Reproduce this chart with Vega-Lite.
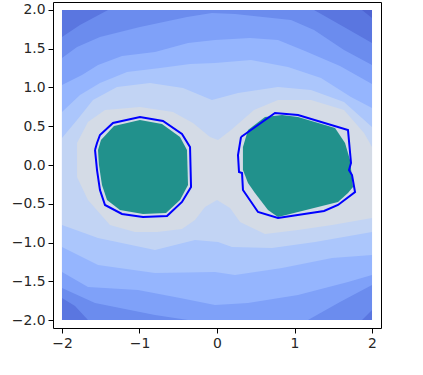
{
"$schema": "https://vega.github.io/schema/vega-lite/v6.json",
"width": 328, "height": 326, "autosize": "none",
"padding": {"left": 53, "top": 2, "right": 42, "bottom": 47},
"config": {"view": {"stroke": "#000", "strokeWidth": 1},
 "axis": {"grid": false, "domain": false, "tickColor": "#000", "tickSize": 5, "tickWidth": 1, "labelFont": "DejaVu Sans", "labelFontSize": 13.9, "labelColor": "#262626", "labelPadding": 3, "title": null, "labelExpr": "replace(datum.label, '-', '\u2212')"}},
"datasets": {"poly": [
{"p":"R0","i":0,"x":-2,"y":2},{"p":"R0","i":1,"x":2,"y":2},{"p":"R0","i":2,"x":2,"y":-2},{"p":"R0","i":3,"x":-2,"y":-2},
{"p":"R1","i":0,"x":-2,"y":2},{"p":"R1","i":1,"x":1.871,"y":2},{"p":"R1","i":2,"x":2,"y":1.897},{"p":"R1","i":3,"x":2,"y":-2},{"p":"R1","i":4,"x":-2,"y":-2},
{"p":"R2","i":0,"x":-1.406,"y":2},{"p":"R2","i":1,"x":1.252,"y":2},{"p":"R2","i":2,"x":1.639,"y":1.781},{"p":"R2","i":3,"x":2,"y":1.574},{"p":"R2","i":4,"x":2,"y":-1.871},{"p":"R2","i":5,"x":1.871,"y":-2},{"p":"R2","i":6,"x":-1.665,"y":-2},{"p":"R2","i":7,"x":-1.832,"y":-1.819},{"p":"R2","i":8,"x":-2,"y":-1.716},{"p":"R2","i":9,"x":-2,"y":1.652},{"p":"R2","i":10,"x":-1.768,"y":1.806},
{"p":"R3","i":0,"x":-2,"y":1.381},{"p":"R3","i":1,"x":-1.806,"y":1.523},{"p":"R3","i":2,"x":-1.51,"y":1.652},{"p":"R3","i":3,"x":-0.994,"y":1.781},{"p":"R3","i":4,"x":-0.387,"y":1.91},{"p":"R3","i":5,"x":-0.065,"y":1.961},{"p":"R3","i":6,"x":0.232,"y":1.948},{"p":"R3","i":7,"x":0.955,"y":1.871},{"p":"R3","i":8,"x":1.252,"y":1.742},{"p":"R3","i":9,"x":1.639,"y":1.484},{"p":"R3","i":10,"x":2,"y":1.29},{"p":"R3","i":11,"x":2,"y":-1.548},{"p":"R3","i":12,"x":1.587,"y":-1.768},{"p":"R3","i":13,"x":1.174,"y":-2},{"p":"R3","i":14,"x":-0.374,"y":-2},{"p":"R3","i":15,"x":-0.8,"y":-1.935},{"p":"R3","i":16,"x":-1.574,"y":-1.781},{"p":"R3","i":17,"x":-2,"y":-1.587},
{"p":"R4","i":0,"x":-2,"y":1.032},{"p":"R4","i":1,"x":-1.742,"y":1.161},{"p":"R4","i":2,"x":-1.535,"y":1.29},{"p":"R4","i":3,"x":-1.226,"y":1.406},{"p":"R4","i":4,"x":-0.8,"y":1.458},{"p":"R4","i":5,"x":-0.374,"y":1.574},{"p":"R4","i":6,"x":-0.026,"y":1.613},{"p":"R4","i":7,"x":0.426,"y":1.639},{"p":"R4","i":8,"x":0.787,"y":1.613},{"p":"R4","i":9,"x":1.135,"y":1.471},{"p":"R4","i":10,"x":1.587,"y":1.277},{"p":"R4","i":11,"x":2,"y":1.045},{"p":"R4","i":12,"x":2,"y":-1.419},{"p":"R4","i":13,"x":1.69,"y":-1.51},{"p":"R4","i":14,"x":1.045,"y":-1.677},{"p":"R4","i":15,"x":0.4,"y":-1.781},{"p":"R4","i":16,"x":-0.026,"y":-1.806},{"p":"R4","i":17,"x":-0.477,"y":-1.716},{"p":"R4","i":18,"x":-1.019,"y":-1.613},{"p":"R4","i":19,"x":-1.665,"y":-1.574},{"p":"R4","i":20,"x":-2,"y":-1.381},
{"p":"R5","i":0,"x":-2,"y":0.684},{"p":"R5","i":1,"x":-1.768,"y":0.903},{"p":"R5","i":2,"x":-1.51,"y":1.058},{"p":"R5","i":3,"x":-1.161,"y":1.2},{"p":"R5","i":4,"x":-0.735,"y":1.252},{"p":"R5","i":5,"x":-0.348,"y":1.303},{"p":"R5","i":6,"x":-0.026,"y":1.316},{"p":"R5","i":7,"x":0.439,"y":1.355},{"p":"R5","i":8,"x":0.916,"y":1.265},{"p":"R5","i":9,"x":1.342,"y":1.123},{"p":"R5","i":10,"x":1.729,"y":0.877},{"p":"R5","i":11,"x":2,"y":0.735},{"p":"R5","i":12,"x":2,"y":-1.161},{"p":"R5","i":13,"x":1.484,"y":-1.2},{"p":"R5","i":14,"x":0.839,"y":-1.329},{"p":"R5","i":15,"x":0.232,"y":-1.419},{"p":"R5","i":16,"x":-0.026,"y":-1.381},{"p":"R5","i":17,"x":-0.8,"y":-1.394},{"p":"R5","i":18,"x":-1.535,"y":-1.29},{"p":"R5","i":19,"x":-2,"y":-1.058},
{"p":"R6","i":0,"x":-2,"y":0.348},{"p":"R6","i":1,"x":-1.806,"y":0.581},{"p":"R6","i":2,"x":-1.6,"y":0.839},{"p":"R6","i":3,"x":-1.29,"y":1.006},{"p":"R6","i":4,"x":-0.865,"y":1.058},{"p":"R6","i":5,"x":-0.439,"y":0.994},{"p":"R6","i":6,"x":-0.065,"y":0.839},{"p":"R6","i":7,"x":0.271,"y":0.929},{"p":"R6","i":8,"x":0.787,"y":1.006},{"p":"R6","i":9,"x":1.213,"y":0.968},{"p":"R6","i":10,"x":1.639,"y":0.813},{"p":"R6","i":11,"x":2,"y":0.49},{"p":"R6","i":12,"x":2,"y":-0.865},{"p":"R6","i":13,"x":1.265,"y":-0.994},{"p":"R6","i":14,"x":0.71,"y":-1.071},{"p":"R6","i":15,"x":0.194,"y":-1.058},{"p":"R6","i":16,"x":0.013,"y":-0.994},{"p":"R6","i":17,"x":-0.284,"y":-0.968},{"p":"R6","i":18,"x":-0.8,"y":-1.097},{"p":"R6","i":19,"x":-1.535,"y":-0.942},{"p":"R6","i":20,"x":-2,"y":-0.774},
{"p":"R7","i":0,"x":-1.806,"y":0.284},{"p":"R7","i":1,"x":-1.806,"y":-0.155},{"p":"R7","i":2,"x":-1.665,"y":-0.452},{"p":"R7","i":3,"x":-1.381,"y":-0.774},{"p":"R7","i":4,"x":-1.058,"y":-0.865},{"p":"R7","i":5,"x":-0.774,"y":-0.865},{"p":"R7","i":6,"x":-0.452,"y":-0.826},{"p":"R7","i":7,"x":-0.284,"y":-0.71},{"p":"R7","i":8,"x":-0.155,"y":-0.542},{"p":"R7","i":9,"x":0,"y":-0.452},{"p":"R7","i":10,"x":0.168,"y":-0.555},{"p":"R7","i":11,"x":0.297,"y":-0.735},{"p":"R7","i":12,"x":0.619,"y":-0.89},{"p":"R7","i":13,"x":1.045,"y":-0.839},{"p":"R7","i":14,"x":1.484,"y":-0.774},{"p":"R7","i":15,"x":2,"y":-0.684},{"p":"R7","i":16,"x":2,"y":0.232},{"p":"R7","i":17,"x":1.897,"y":0.413},{"p":"R7","i":18,"x":1.639,"y":0.71},{"p":"R7","i":19,"x":1.213,"y":0.839},{"p":"R7","i":20,"x":0.787,"y":0.839},{"p":"R7","i":21,"x":0.477,"y":0.71},{"p":"R7","i":22,"x":0.181,"y":0.452},{"p":"R7","i":23,"x":0.013,"y":0.323},{"p":"R7","i":24,"x":-0.09,"y":0.361},{"p":"R7","i":25,"x":-0.31,"y":0.542},{"p":"R7","i":26,"x":-0.568,"y":0.684},{"p":"R7","i":27,"x":-0.994,"y":0.748},{"p":"R7","i":28,"x":-1.445,"y":0.71},{"p":"R7","i":29,"x":-1.665,"y":0.555},
{"p":"TL","i":0,"x":-1.535,"y":0.194},{"p":"TL","i":1,"x":-1.497,"y":0.323},{"p":"TL","i":2,"x":-1.329,"y":0.503},{"p":"TL","i":3,"x":-0.994,"y":0.581},{"p":"TL","i":4,"x":-0.71,"y":0.529},{"p":"TL","i":5,"x":-0.477,"y":0.361},{"p":"TL","i":6,"x":-0.387,"y":0.194},{"p":"TL","i":7,"x":-0.374,"y":-0.258},{"p":"TL","i":8,"x":-0.477,"y":-0.452},{"p":"TL","i":9,"x":-0.658,"y":-0.619},{"p":"TL","i":10,"x":-0.955,"y":-0.632},{"p":"TL","i":11,"x":-1.252,"y":-0.581},{"p":"TL","i":12,"x":-1.419,"y":-0.452},{"p":"TL","i":13,"x":-1.484,"y":-0.258},{"p":"TL","i":14,"x":-1.523,"y":0},
{"p":"TR","i":0,"x":0.335,"y":0.232},{"p":"TR","i":1,"x":0.4,"y":0.452},{"p":"TR","i":2,"x":0.619,"y":0.619},{"p":"TR","i":3,"x":0.839,"y":0.645},{"p":"TR","i":4,"x":1.045,"y":0.619},{"p":"TR","i":5,"x":1.523,"y":0.477},{"p":"TR","i":6,"x":1.652,"y":0.284},{"p":"TR","i":7,"x":1.716,"y":0.065},{"p":"TR","i":8,"x":1.755,"y":-0.284},{"p":"TR","i":9,"x":1.69,"y":-0.361},{"p":"TR","i":10,"x":1.561,"y":-0.477},{"p":"TR","i":11,"x":0.787,"y":-0.671},{"p":"TR","i":12,"x":0.658,"y":-0.581},{"p":"TR","i":13,"x":0.49,"y":-0.361},{"p":"TR","i":14,"x":0.4,"y":-0.232},{"p":"TR","i":15,"x":0.335,"y":-0.065},
{"p":"BL","i":0,"x":-1.574,"y":0.194},{"p":"BL","i":1,"x":-1.548,"y":0.284},{"p":"BL","i":2,"x":-1.51,"y":0.387},{"p":"BL","i":3,"x":-1.342,"y":0.542},{"p":"BL","i":4,"x":-0.994,"y":0.619},{"p":"BL","i":5,"x":-0.697,"y":0.568},{"p":"BL","i":6,"x":-0.452,"y":0.4},{"p":"BL","i":7,"x":-0.348,"y":0.232},{"p":"BL","i":8,"x":-0.335,"y":-0.284},{"p":"BL","i":9,"x":-0.452,"y":-0.477},{"p":"BL","i":10,"x":-0.645,"y":-0.658},{"p":"BL","i":11,"x":-0.955,"y":-0.671},{"p":"BL","i":12,"x":-1.226,"y":-0.632},{"p":"BL","i":13,"x":-1.445,"y":-0.516},{"p":"BL","i":14,"x":-1.51,"y":-0.323},{"p":"BL","i":15,"x":-1.548,"y":-0.065},{"p":"BL","i":16,"x":-1.574,"y":0.194},
{"p":"BR","i":0,"x":0.31,"y":0.361},{"p":"BR","i":1,"x":0.748,"y":0.671},{"p":"BR","i":2,"x":1.045,"y":0.645},{"p":"BR","i":3,"x":1.69,"y":0.452},{"p":"BR","i":4,"x":1.729,"y":0.026},{"p":"BR","i":5,"x":1.703,"y":-0.065},{"p":"BR","i":6,"x":1.742,"y":-0.129},{"p":"BR","i":7,"x":1.781,"y":-0.348},{"p":"BR","i":8,"x":1.561,"y":-0.516},{"p":"BR","i":9,"x":1.381,"y":-0.594},{"p":"BR","i":10,"x":0.787,"y":-0.684},{"p":"BR","i":11,"x":0.529,"y":-0.606},{"p":"BR","i":12,"x":0.335,"y":-0.323},{"p":"BR","i":13,"x":0.323,"y":-0.103},{"p":"BR","i":14,"x":0.284,"y":-0.09},{"p":"BR","i":15,"x":0.271,"y":0.129},{"p":"BR","i":16,"x":0.31,"y":0.361}
]},
"data": {"name": "poly"},
"encoding": {
 "x": {"field": "x", "type": "quantitative", "scale": {"domain": [-2.116, 2.116], "nice": false, "zero": false}, "axis": {"values": [-2, -1, 0, 1, 2], "format": "d"}},
 "y": {"field": "y", "type": "quantitative", "scale": {"domain": [-2.103, 2.103], "nice": false, "zero": false}, "axis": {"values": [-2, -1.5, -1, -0.5, 0, 0.5, 1, 1.5, 2], "format": ".1f"}},
 "order": {"field": "i", "type": "quantitative"}
},
"layer": [
 {"transform": [{"filter": "datum.p == 'R0'"}], "mark": {"type": "line", "fill": "#4e64d3", "strokeWidth": 0}},
 {"transform": [{"filter": "datum.p == 'R1'"}], "mark": {"type": "line", "fill": "#5a76e0", "strokeWidth": 0}},
 {"transform": [{"filter": "datum.p == 'R2'"}], "mark": {"type": "line", "fill": "#6b8cee", "strokeWidth": 0}},
 {"transform": [{"filter": "datum.p == 'R3'"}], "mark": {"type": "line", "fill": "#7fa1f9", "strokeWidth": 0}},
 {"transform": [{"filter": "datum.p == 'R4'"}], "mark": {"type": "line", "fill": "#95b5fe", "strokeWidth": 0}},
 {"transform": [{"filter": "datum.p == 'R5'"}], "mark": {"type": "line", "fill": "#abc6fc", "strokeWidth": 0}},
 {"transform": [{"filter": "datum.p == 'R6'"}], "mark": {"type": "line", "fill": "#c2d4f4", "strokeWidth": 0}},
 {"transform": [{"filter": "datum.p == 'R7'"}], "mark": {"type": "line", "fill": "#d4dbe6", "strokeWidth": 0}},
 {"transform": [{"filter": "datum.p == 'TL'"}], "mark": {"type": "line", "fill": "#21918c", "strokeWidth": 0}},
 {"transform": [{"filter": "datum.p == 'TR'"}], "mark": {"type": "line", "fill": "#21918c", "strokeWidth": 0}},
 {"transform": [{"filter": "datum.p == 'BL'"}], "mark": {"type": "line", "color": "#0000ff", "strokeWidth": 2}},
 {"transform": [{"filter": "datum.p == 'BR'"}], "mark": {"type": "line", "color": "#0000ff", "strokeWidth": 2}}
]
}
